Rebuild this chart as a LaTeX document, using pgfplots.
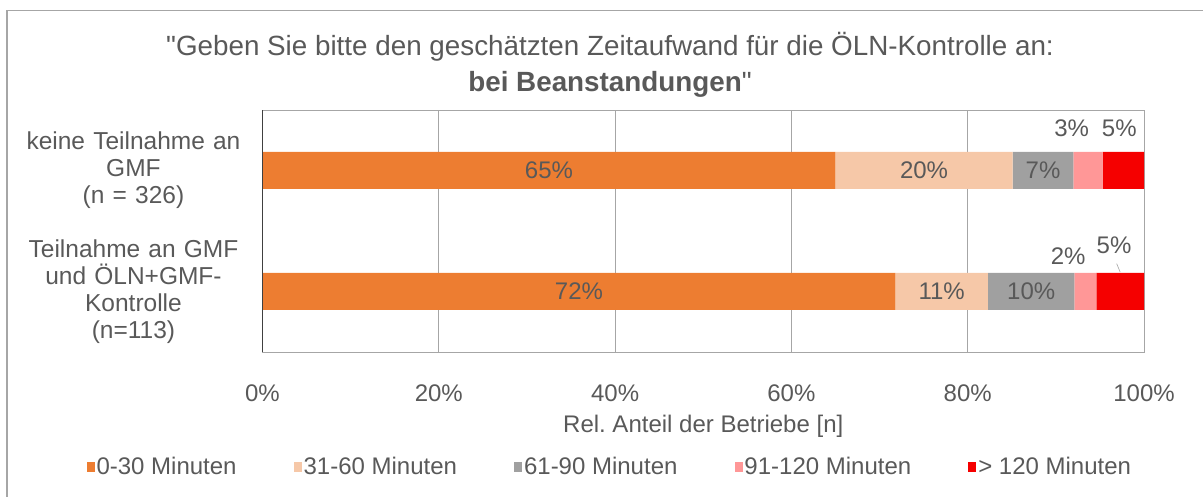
\documentclass[border=0pt]{standalone}
\usepackage{fontspec}
\setmainfont{Liberation Sans}[Ligatures=TeXOff]
\usepackage{pgfplots}
\pgfplotsset{compat=1.18}

\definecolor{txt}{HTML}{595959}
\definecolor{gridc}{HTML}{A6A6A6}
\definecolor{c1}{HTML}{ED7D31}
\definecolor{c2}{HTML}{F6C8A8}
\definecolor{c3}{HTML}{A0A0A0}
\definecolor{c4}{HTML}{FF9797}
\definecolor{c5}{HTML}{F50000}

\tikzset{lab/.style={font=\fontsize{24}{28}\selectfont,text=txt}}

\begin{document}
\begin{tikzpicture}
\path[use as bounding box] (0,0) rectangle (1203pt,497pt);
\draw[gridc,line width=1.2pt] (7pt,0pt) -- (7pt,486.5pt) -- (1203pt,486.5pt);

\node[font=\fontsize{27.8}{36}\selectfont,text=txt,align=center]
  at (610pt,432pt) {"Geben Sie bitte den geschätzten Zeitaufwand für die ÖLN-Kontrolle an:\\
  \textbf{bei Beanstandungen}"};

\begin{axis}[
  at={(262.5pt,145pt)},anchor=south west,
  scale only axis,width=881.5pt,height=242pt,
  xbar stacked,bar width=37pt,
  xmin=0,xmax=100,ymin=-0.5,ymax=1.5,
  xtick={0,20,40,60,80,100},
  xticklabels={0\%,20\%,40\%,60\%,80\%,100\%},
  ytick={0,1},
  yticklabels={{Teilnahme an GMF\\und ÖLN+GMF-\\Kontrolle\\(n=113)},
               {keine Teilnahme an\\GMF\\(n = 326)}},
  major tick length=0pt,
  xmajorgrids=true,grid style={gridc,line width=0.9pt},
  axis line style={gridc,line width=0.9pt},
  xticklabel style={font=\fontsize{24}{28}\selectfont,text=txt,yshift=-29pt},
  yticklabel style={font=\fontsize{24.5}{27}\selectfont,text=txt,align=center,
    text width=245pt,xshift=-3pt},
  xlabel={Rel.\ Anteil der Betriebe [n]},
  xlabel style={font=\fontsize{24}{28}\selectfont,text=txt,
    at={(axis description cs:0.5,-0.306)},anchor=center},
  legend columns=-1,
  legend style={draw=none,fill=none,font=\fontsize{24}{28}\selectfont,text=txt,
    at={(axis description cs:0.394,-0.475)},anchor=center,
    /tikz/every even column/.append style={column sep=55pt}},
  legend image code/.code={\fill[#1] (0pt,-5pt) rectangle (8pt,5pt);},
  clip=false,
]
\addplot[fill=c1,draw=none] coordinates {(71.8,0) (65.0,1)};
\addplot[fill=c2,draw=none] coordinates {(10.5,0) (20.1,1)};
\addplot[fill=c3,draw=none] coordinates {(9.8,0) (6.9,1)};
\addplot[fill=c4,draw=none] coordinates {(2.5,0) (3.3,1)};
\addplot[fill=c5,draw=none] coordinates {(5.4,0) (4.7,1)};
\legend{0-30 Minuten,31-60 Minuten,61-90 Minuten,91-120 Minuten,> 120 Minuten}

\coordinate (a1) at (axis cs:32.5,1);
\coordinate (a2) at (axis cs:75.05,1);
\coordinate (a3) at (axis cs:88.55,1);
\coordinate (a4) at (axis cs:91.8,1.351);
\coordinate (a5) at (axis cs:97.2,1.351);
\coordinate (b1) at (axis cs:35.9,0);
\coordinate (b2) at (axis cs:77.05,0);
\coordinate (b3) at (axis cs:87.2,0);
\coordinate (b4) at (axis cs:91.4,0.293);
\coordinate (b5) at (axis cs:96.6,0.384);
\coordinate (p1) at (axis cs:96.9,0.23);
\coordinate (p2) at (axis cs:97.3,0.16);
\coordinate (y0) at (axis cs:0,-0.5);
\coordinate (y1) at (axis cs:0,1.5);
\end{axis}

\draw[line width=1pt,black!75] (y0) -- (y1);
\node[lab] at (a1) {65\%};
\node[lab] at (a2) {20\%};
\node[lab] at (a3) {7\%};
\node[lab] at (a4) {3\%};
\node[lab] at (a5) {5\%};
\node[lab] at (b1) {72\%};
\node[lab] at (b2) {11\%};
\node[lab] at (b3) {10\%};
\node[lab] at (b4) {2\%};
\node[lab] at (b5) {5\%};
\draw[gridc,line width=0.6pt] (p1) -- (p2);
\end{tikzpicture}
\end{document}
